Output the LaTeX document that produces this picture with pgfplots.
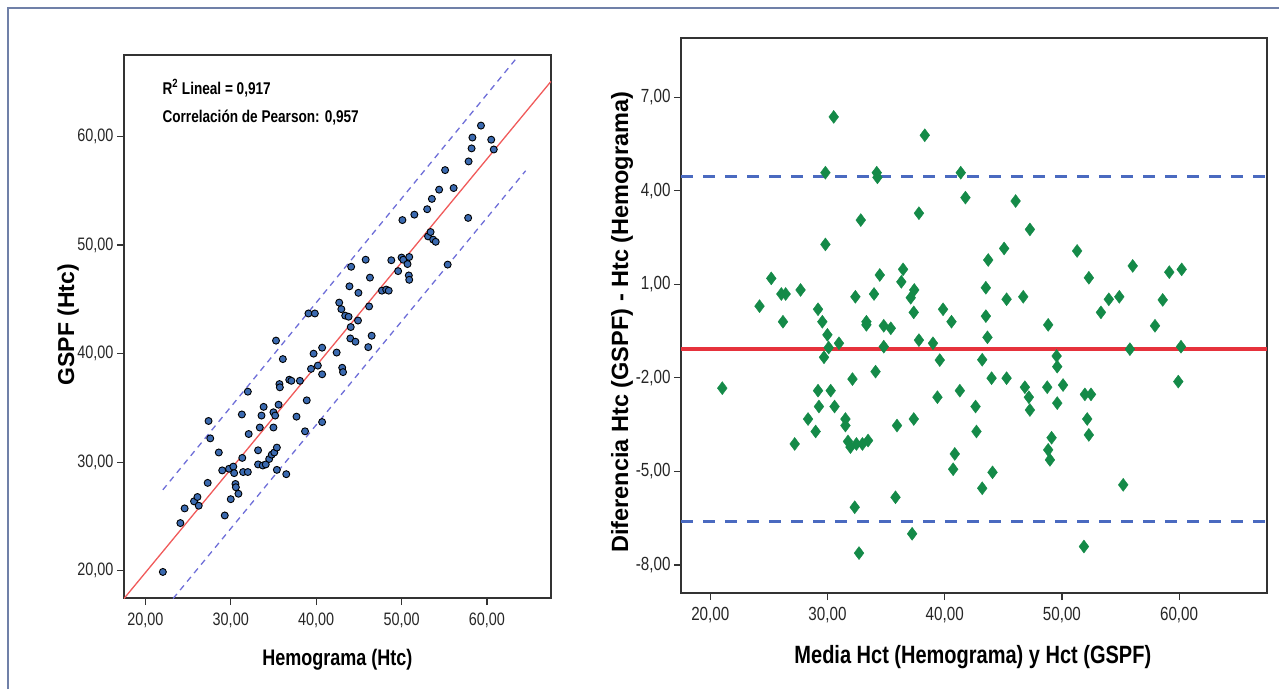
\documentclass[border=0pt]{standalone}
\usepackage{fontspec}
\setmainfont[FakeStretch=0.8]{Liberation Sans}
\newfontfamily\vlabel{Liberation Sans}
\usepackage{pgfplots}
\pgfplotsset{compat=1.18}
\definecolor{dotblue}{HTML}{3B6AB0}
\definecolor{fitred}{HTML}{F05A5A}
\definecolor{ciblue}{HTML}{6E6ED8}
\definecolor{dgreen}{HTML}{148A48}
\definecolor{meanred}{HTML}{E6323C}
\definecolor{loablue}{HTML}{4A6AC0}
\definecolor{frame}{HTML}{7080A8}

\pgfplotsset{
  spss/.style={
    scale only axis, xmin=17.5, xmax=67.5,
    axis line style={draw=black!80, line width=1.2pt},
    tick style={draw=black!80, line width=1.2pt},
    tick align=outside, major tick length=7pt,
    xtick pos=bottom, ytick pos=left,
    xtick={20,30,40,50,60},
    xticklabels={{20,00},{30,00},{40,00},{50,00},{60,00}},
    xticklabel style={yshift=-4pt},
  }
}

\begin{document}
\begin{tikzpicture}
\path[use as bounding box] (0,0) rectangle (1279pt,689pt);
\draw[frame, line width=2pt] (8pt,0pt) -- (8pt,681pt) -- (1279pt,681pt);

% scatter: GSPF vs Hemograma
\begin{axis}[spss,
  at={(124pt,91pt)}, anchor=south west,
  width=427pt, height=543pt,
  ymin=17.5, ymax=67.5,
  ytick={20,30,40,50,60},
  yticklabels={{20,00},{30,00},{40,00},{50,00},{60,00}},
  tick label style={font=\fontsize{18}{20}\selectfont, text=black!85},
  xlabel={Hemograma (Htc)}, ylabel={GSPF (Htc)},
  xlabel style={font=\fontsize{22.5}{26}\selectfont\bfseries, at={(axis description cs:0.5,-0.114)}, anchor=center},
  ylabel style={font=\fontsize{23}{26}\vlabel\bfseries, at={(axis description cs:-0.131,0.503)}, anchor=center},
  clip=true]
\addplot[fitred, line width=1.3pt] coordinates {(17.5,17.45) (67.5,65.07)};
\addplot[ciblue, line width=1.3pt, dash pattern=on 6pt off 5pt] coordinates {(22.05,27.46) (63.34,67.09)};
\addplot[ciblue, line width=1.3pt, dash pattern=on 6pt off 5pt] coordinates {(23.25,17.45) (64.53,56.84)};
\addplot[only marks, mark=*, mark size=3.5pt,
  mark options={fill=dotblue, draw=black, line width=0.9pt}] coordinates {
(22.05,19.9) (24.1,24.4) (24.6,25.75) (25.7,26.4) (26.1,26.8) (26.25,26.0)
(27.3,28.1) (27.4,33.8) (27.6,32.2) (28.6,30.9) (29.0,29.25) (29.3,25.1)
(29.8,29.4) (30.0,26.6) (30.3,29.6) (30.4,29.0) (30.55,28.0) (30.6,27.7)
(30.9,27.1) (31.35,30.4) (31.3,34.4) (31.45,29.1) (32.0,29.1) (32.0,36.5)
(32.1,32.6) (33.2,31.1) (33.2,29.8) (33.4,33.2) (33.6,34.3) (33.75,29.7)
(33.85,35.1) (34.1,29.8) (34.5,30.3) (34.8,30.7) (35.0,33.2) (35.0,34.6)
(35.1,30.9) (35.2,34.3) (35.4,31.35) (35.3,41.2) (35.4,29.3) (35.6,35.3)
(35.7,37.2) (35.75,36.9) (36.1,39.5) (36.5,28.9) (36.85,37.6) (37.1,37.5)
(37.7,34.2) (38.1,37.5) (38.9,35.7) (38.7,32.85) (39.1,43.7) (39.4,38.6)
(39.85,43.7) (39.7,40.0) (40.2,38.9) (40.7,40.55) (40.7,38.1) (40.7,33.7)
(42.4,40.1) (42.7,44.7) (42.95,44.1) (43.05,38.7) (43.15,38.3) (43.4,43.5)
(43.8,43.4) (43.9,46.2) (44.05,42.45) (44.0,41.4) (44.1,48.0) (44.6,41.1)
(44.9,43.05) (44.95,45.6) (45.8,48.65) (46.1,40.6) (46.2,44.35) (46.3,47.0)
(46.5,41.65) (47.7,45.8) (48.2,45.9) (48.5,45.8) (48.8,48.6) (49.6,47.6)
(50.0,48.85) (50.2,48.65) (50.1,52.3) (50.7,48.25) (50.9,48.9) (50.85,47.2)
(50.9,46.8) (51.5,52.8) (53.0,53.3) (53.1,50.8) (53.4,51.2) (53.7,50.5)
(54.0,50.3) (53.55,54.25) (54.4,55.1) (55.1,56.9) (55.4,48.2) (56.1,55.25)
(57.8,52.5) (57.85,57.7) (58.2,58.9) (58.3,59.9) (59.3,61.0) (60.5,59.7)
(60.8,58.8)};
\node[anchor=west, font=\fontsize{17}{20}\selectfont\bfseries] at (axis cs:21.6,64.45) {R\textsuperscript{2} Lineal = 0,917};
\node[anchor=west, font=\fontsize{17}{20}\selectfont\bfseries] at (axis cs:21.6,61.77) {Correlación de Pearson: 0,957};
\end{axis}

% Bland-Altman
\begin{axis}[spss,
  at={(681pt,96pt)}, anchor=south west,
  width=586pt, height=555pt,
  ymin=-8.9, ymax=8.9,
  ytick={-8,-5,-2,1,4,7},
  yticklabels={{-8,00},{-5,00},{-2,00},{1,00},{4,00},{7,00}},
  tick label style={font=\fontsize{19}{21}\selectfont, text=black!85},
  xlabel={Media Hct (Hemograma) y Hct (GSPF)},
  ylabel={Diferencia Htc (GSPF) - Htc (Hemograma)},
  xlabel style={font=\fontsize{25}{28}\selectfont\bfseries, at={(axis description cs:0.498,-0.115)}, anchor=center},
  ylabel style={font=\fontsize{23.5}{26}\vlabel\bfseries, at={(axis description cs:-0.1007,0.488)}, anchor=center}]
\addplot[meanred, line width=4pt] coordinates {(17.5,-1.08) (67.5,-1.08)};
\addplot[loablue, line width=3.5pt, dash pattern=on 12pt off 10pt] coordinates {(17.5,4.46) (67.5,4.46)};
\addplot[loablue, line width=3.5pt, dash pattern=on 12pt off 10pt] coordinates {(17.5,-6.61) (67.5,-6.61)};
\addplot[only marks, mark=diamond*, mark size=6.5pt,
  mark options={fill=dgreen, draw=dgreen, line width=0.4pt}] coordinates {
(30.53,6.37) (38.3,5.78) (29.82,4.58) (34.2,4.58) (34.26,4.43) (41.37,4.58)
(41.77,3.78) (32.84,3.06) (37.8,3.28) (29.82,2.28) (25.2,1.19) (24.2,0.30)
(26.06,0.69) (26.43,0.69) (27.7,0.82) (26.2,-0.20) (29.19,0.20) (29.56,-0.20)
(29.99,-0.62) (32.38,0.60) (33.32,-0.20) (33.32,-0.30) (33.97,0.69) (34.46,1.30)
(34.8,-0.33) (35.4,-0.41) (36.45,1.48) (36.3,1.08) (37.4,0.82) (37.1,0.57)
(37.36,0.10) (39.86,0.20) (40.58,-0.20) (37.8,-0.79) (39.0,-0.89) (30.98,-0.89)
(34.8,-1.0) (30.1,-1.03) (29.7,-1.34) (46.05,3.67) (47.27,2.76) (45.07,2.15)
(43.71,1.78) (43.51,0.89) (45.28,0.52) (46.7,0.60) (43.51,-0.02) (43.65,-0.70)
(48.83,-0.30) (51.3,2.07) (52.3,1.21) (56.04,1.59) (54.0,0.52) (54.9,0.60)
(53.33,0.10) (59.16,1.39) (60.22,1.48) (58.6,0.50) (57.94,-0.33) (55.8,-1.08)
(60.16,-1.0) (43.2,-1.42) (49.55,-1.30) (39.58,-1.43) (21.02,-2.33) (32.13,-2.04)
(34.1,-1.80) (29.19,-2.41) (30.27,-2.41) (29.27,-2.92) (30.6,-2.92) (28.34,-3.32)
(28.99,-3.72) (31.53,-3.32) (31.53,-3.53) (27.2,-4.12) (31.75,-4.04) (31.96,-4.22)
(32.47,-4.12) (32.98,-4.12) (33.46,-4.01) (35.93,-3.53) (37.36,-3.32) (39.38,-2.62)
(41.29,-2.41) (42.63,-2.92) (42.71,-3.72) (40.86,-4.44) (40.72,-4.93) (43.2,-5.54)
(35.8,-5.83) (32.32,-6.15) (37.22,-7.0) (32.69,-7.62) (49.6,-1.64) (50.1,-2.23)
(44.0,-2.01) (45.28,-2.01) (46.84,-2.30) (47.18,-2.62) (47.27,-3.03) (48.75,-2.30)
(49.6,-2.81) (51.96,-2.53) (52.48,-2.53) (52.16,-3.32) (52.3,-3.83) (49.12,-3.92)
(48.83,-4.31) (48.98,-4.63) (44.08,-5.03) (59.93,-2.12) (55.23,-5.43) (51.88,-7.41)};
\end{axis}
\end{tikzpicture}
\end{document}
